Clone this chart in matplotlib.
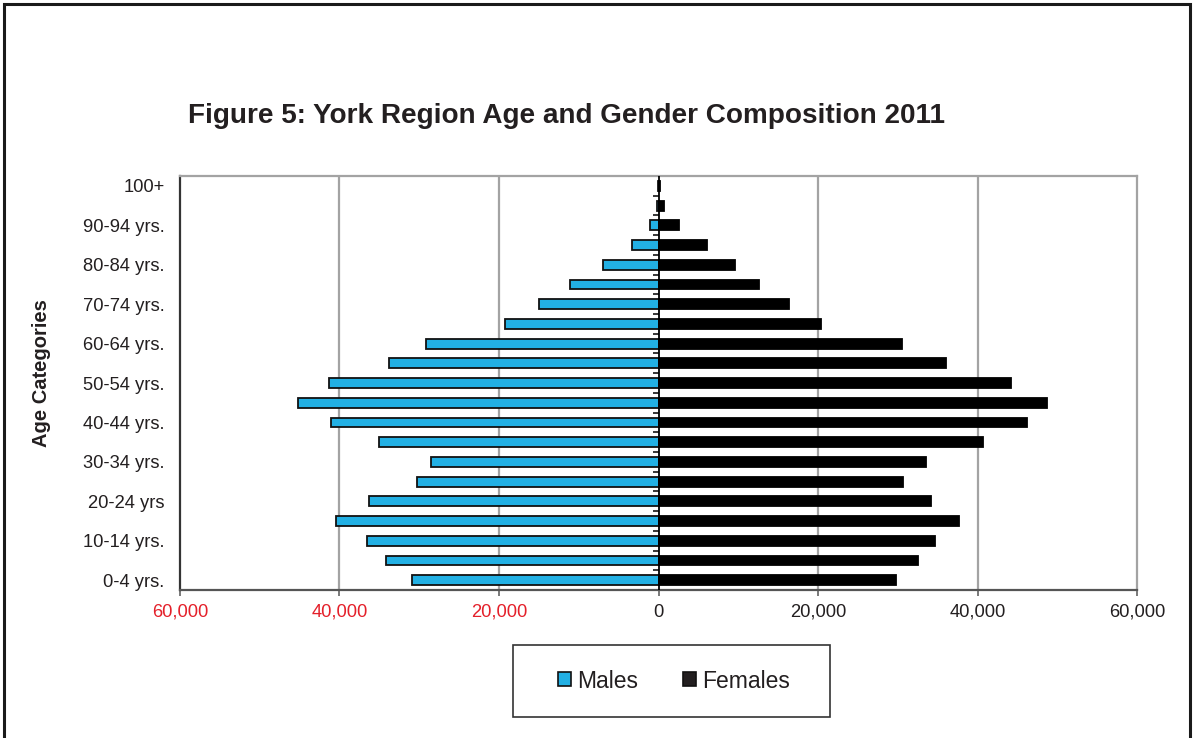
import matplotlib
matplotlib.use("Agg")
import matplotlib.pyplot as plt
from matplotlib.patches import Rectangle, Patch
import numpy as np

plt.rcParams['font.family'] = ['Liberation Sans', 'DejaVu Sans']

# Age groups from youngest to oldest
age_groups = ["0-4 yrs.", "5-9 yrs.", "10-14 yrs.", "15-19 yrs.", "20-24 yrs",
              "25-29 yrs.", "30-34 yrs.", "35-39 yrs.", "40-44 yrs.", "45-49 yrs.",
              "50-54 yrs.", "55-59 yrs.", "60-64 yrs.", "65-69 yrs.", "70-74 yrs.",
              "75-79 yrs.", "80-84 yrs.", "85-89 yrs.", "90-94 yrs.", "95-99 yrs.",
              "100+"]

males = [30950, 34200, 36600, 40500, 36300, 30300, 28500, 35100, 41100, 45200,
         41300, 33800, 29100, 19200, 15000, 11100, 6900, 3350, 1050, 250, 40]
females = [29750, 32550, 34650, 37650, 34150, 30600, 33550, 40650, 46200, 48700,
           44250, 36100, 30500, 20400, 16400, 12650, 9600, 6050, 2600, 750, 150]

xtick_values = [-60000, -40000, -20000, 0, 20000, 40000, 60000]
xtick_labels = ["60,000", "40,000", "20,000", "0", "20,000", "40,000", "60,000"]

W, H = 1194, 738
fig = plt.figure(figsize=(W / 100, H / 100), dpi=100)
fig.patch.set_facecolor("white")

# outer page frame (open at the bottom)
fig.add_artist(Rectangle((4 / W, -0.05), (1190 - 4) / W, 1.05 - 4 / H,
                         transform=fig.transFigure, fill=False,
                         edgecolor="#1a1a1a", linewidth=2.2))

left, right, top, bottom = 180, 1137, 176, 590
ax = fig.add_axes([left / W, 1 - bottom / H, (right - left) / W, (bottom - top) / H])

y = np.arange(len(age_groups))
male_color = "#22B0E4"
ax.barh(y, -np.array(males), height=0.5, color=male_color,
        edgecolor="#111111", linewidth=1.3, zorder=3)
ax.barh(y, females, height=0.5, color="#000000",
        edgecolor="#000000", linewidth=1.3, zorder=3)

ax.set_xlim(-60000, 60000)
ax.set_ylim(-0.5, len(age_groups) - 0.5)

# vertical gridlines
for v in [-40000, -20000, 20000, 40000]:
    ax.axvline(v, color="#A3A3A3", linewidth=1.6, zorder=1)

# zero axis with category boundary ticks pointing to the left
ax.axvline(0, color="#000000", linewidth=1.3, zorder=4)
zero_axis = ax.secondary_yaxis(0.5)
zero_axis.set_yticks(np.arange(-0.5, len(age_groups), 1.0))
zero_axis.set_yticklabels([])
zero_axis.tick_params(axis="y", direction="in", length=4, width=1.1, color="#000000")
for s in zero_axis.spines.values():
    s.set_visible(False)

# spines
for s in ["top", "right"]:
    ax.spines[s].set_color("#A3A3A3")
    ax.spines[s].set_linewidth(1.6)
ax.spines["left"].set_color("#333333")
ax.spines["left"].set_linewidth(1.6)
ax.spines["bottom"].set_color("#555555")
ax.spines["bottom"].set_linewidth(1.6)

# y tick labels: every other age group
ax.set_yticks(y[::2])
ax.set_yticklabels(age_groups[::2], fontsize=13.2, color="#231F20")
ax.tick_params(axis="y", length=0, pad=11)

ax.set_xticks(xtick_values)
ax.set_xticklabels(xtick_labels, fontsize=13.2)
ax.tick_params(axis="x", direction="out", length=4, width=1.1, color="#555555", pad=6)
for lbl, v in zip(ax.get_xticklabels(), xtick_values):
    lbl.set_color("#E4202A" if v < 0 else "#231F20")

# title and axis title
fig.text(567 / W, 1 - 116 / H, "Figure 5: York Region Age and Gender Composition 2011",
         ha="center", va="center", fontsize=20.1, fontweight="bold", color="#231F20")
fig.text(42 / W, 1 - 373 / H, "Age Categories", rotation=90, ha="center", va="center",
         fontsize=14.5, fontweight="bold", color="#231F20")

# legend box
fig.add_artist(Rectangle((513 / W, 1 - 717 / H), (830 - 513) / W, (717 - 645) / H,
                         transform=fig.transFigure, fill=False,
                         edgecolor="#333333", linewidth=1.2))
handles = [Patch(facecolor=male_color, edgecolor="#111111", linewidth=1.2),
           Patch(facecolor="#231F20", edgecolor="#111111", linewidth=1.2)]
fig.legend(handles, ["Males", "Females"], loc="center",
           bbox_to_anchor=(674 / W, 1 - 681 / H), ncol=2, frameon=False,
           fontsize=16.5, handlelength=0.55, handleheight=0.55,
           handletextpad=0.25, columnspacing=2.0, labelcolor="#231F20")

fig.savefig("out.png", dpi=100, facecolor="white")
